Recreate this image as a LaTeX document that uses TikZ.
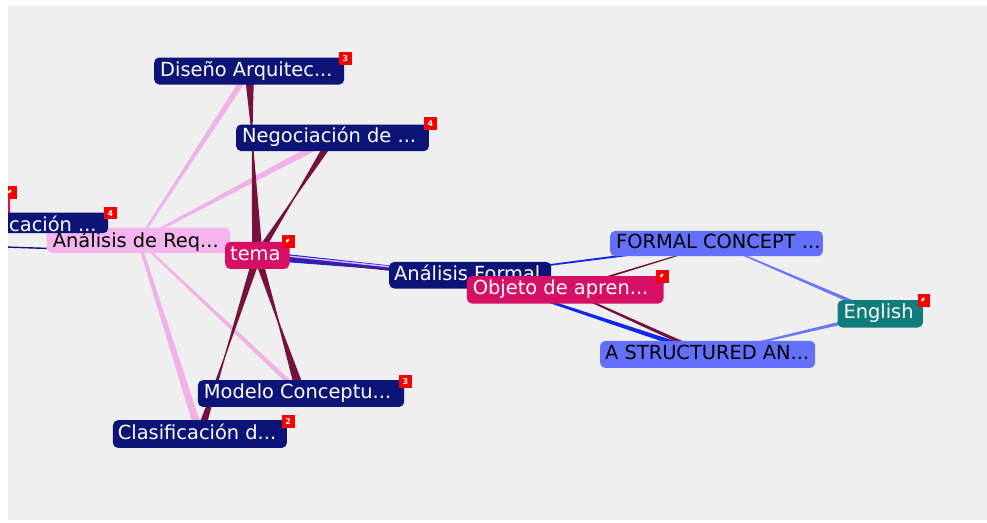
\documentclass[tikz,border=0pt]{standalone}
\usepackage{fontspec}
\setmainfont{DejaVu Sans}
\usetikzlibrary{calc}

\definecolor{panelgray}{RGB}{239,239,239}
\definecolor{navyc}{RGB}{12,20,120}
\definecolor{crimsonc}{RGB}{214,16,100}
\definecolor{pinkc}{RGB}{244,180,238}
\definecolor{peric}{RGB}{98,112,250}
\definecolor{tealc}{RGB}{16,124,124}
\definecolor{maroonc}{RGB}{118,16,62}
\definecolor{pinkedge}{RGB}{240,176,232}
\definecolor{blueedge}{RGB}{16,40,230}
\definecolor{periedge}{RGB}{104,120,250}
\definecolor{badgered}{RGB}{250,0,0}

% tapered connector: half width #4 at #2, half width #5 at #3
\newcommand\taper[5]{\fill[#1] ($(#2)!#4!90:(#3)$) -- ($(#3)!#5!-90:(#2)$) -- ($(#3)!#5!90:(#2)$) -- ($(#2)!#4!-90:(#3)$) -- cycle;}
% spike: half width #4 at #2, narrowing to a point at fraction #5 towards #3
\newcommand\spike[5]{\fill[#1] ($(#2)!#4!90:(#3)$) -- ($(#2)!#5!(#3)$) -- ($(#2)!#4!-90:(#3)$) -- cycle;}

\tikzset{
  cnode/.style={rounded corners=5pt, anchor=north west, inner sep=0pt,
    text height=14pt, text depth=4pt, font=\fontsize{19.4}{21}\selectfont},
  navybox/.style={cnode, fill=navyc, text=white},
  crimbox/.style={cnode, fill=crimsonc, text=white},
  pinkbox/.style={cnode, fill=pinkc, text=black},
  peribox/.style={cnode, fill=peric, text=black},
  tealbox/.style={cnode, fill=tealc, text=white},
  badge/.style={anchor=north west, fill=badgered, inner sep=0pt,
    minimum width=12.6pt, minimum height=12.4pt, text=white,
    font=\fontsize{8}{8}\selectfont\bfseries},
}

\begin{document}
\begin{tikzpicture}[x=1pt,y=-1pt]
\useasboundingbox (0,0) rectangle (987,522);
\fill[white] (0,0) rectangle (987,522);
\fill[panelgray] (8,6) rectangle (987,520);

\begin{scope}
\clip (8,6) rectangle (987,520);

% nodes are placed first so the connectors can refer to them,
% then painted again above the connectors
\begin{scope}[transparency group, opacity=0]
\node[crimbox, minimum width=70pt, minimum height=27pt] (off) at (-60,191) {};
\node[pinkbox, minimum width=183.3pt, minimum height=25pt] (req) at (46.7,227.7) {};
\node[crimbox, minimum width=64.3pt, minimum height=27pt] (tema) at (225,241.7) {};
\node[navybox, minimum width=190pt, minimum height=27pt] (dis) at (154,57.3) {};
\node[navybox, minimum width=192.7pt, minimum height=26.7pt] (neg) at (236,124.3) {};
\node[navybox, minimum width=206.3pt, minimum height=26.7pt] (mod) at (197.7,380) {};
\node[navybox, minimum width=174pt, minimum height=27.7pt] (cla) at (112.7,420) {};
\node[navybox, minimum width=162pt, minimum height=26.6pt] (af) at (389,261.7) {};
\node[crimbox, minimum width=196.6pt, minimum height=27.3pt] (obj) at (466.7,276) {};
\node[peribox, minimum width=212.7pt, minimum height=25.3pt] (fc) at (610,230.7) {};
\node[peribox, minimum width=215pt, minimum height=27pt] (asa) at (600,340.7) {};
\node[tealbox, minimum width=85.4pt, minimum height=27.3pt] (eng) at (837.3,300) {};
\end{scope}
\coordinate (offl) at (-10,246.5);

% connectors
\draw[navyc, line width=1.4pt] (offl) -- ([yshift=-8pt]req.west);
\taper{pinkedge}{req}{dis}{1pt}{3pt}
\taper{pinkedge}{req}{neg}{1pt}{3.5pt}
\taper{pinkedge}{req}{mod}{1pt}{2.5pt}
\taper{pinkedge}{req}{cla}{1.5pt}{4pt}
\spike{maroonc}{dis}{tema}{4.75pt}{0.38}
\spike{maroonc}{tema}{dis}{5.25pt}{0.69}
\spike{maroonc}{neg}{tema}{4pt}{0.6}
\spike{maroonc}{tema}{neg}{3.5pt}{0.6}
\spike{maroonc}{tema}{mod}{4pt}{0.6}
\spike{maroonc}{mod}{tema}{5pt}{0.6}
\spike{maroonc}{tema}{cla}{4pt}{0.65}
\spike{maroonc}{cla}{tema}{4pt}{0.5}
\taper{blueedge}{tema}{af}{4.5pt}{1pt}
\taper{maroonc}{tema}{obj}{0.6pt}{0.6pt}
\taper{pinkedge}{req}{af}{0.6pt}{0.8pt}
\taper{blueedge}{af}{fc}{0.7pt}{1.2pt}
\taper{blueedge}{af}{asa}{0.7pt}{2.5pt}
\taper{maroonc}{obj}{fc}{1.2pt}{0.3pt}
\taper{maroonc}{obj}{asa}{0.7pt}{2pt}
\taper{periedge}{fc}{eng}{0.5pt}{2pt}
\taper{periedge}{asa}{eng}{0.5pt}{2pt}

% concept boxes
\node[crimbox, minimum width=70pt, minimum height=27pt] at (off.north west) {};
\node[badge] (boff) at (4,186) {};
\node[pinkbox, minimum width=183.3pt, minimum height=25pt, text height=16pt, text depth=2pt] at (req.north west)
  {\makebox[183.3pt][l]{\hspace*{6pt}Análisis de Req...}};
\node[navybox, minimum width=104pt, minimum height=20.7pt, text height=17.5pt, text depth=0.5pt] (cac) at (4,212.3)
  {\makebox[104pt][l]{\hspace*{5pt}cación ...}};
\node[badge] (bcac) at (104,206.7) {4};
\node[crimbox, minimum width=64.3pt, minimum height=27pt] at (tema.north west)
  {\makebox[64.3pt][l]{\hspace*{5pt}tema}};
\node[badge] (btema) at (282,235) {};
\node[navybox, minimum width=190pt, minimum height=27pt] at (dis.north west)
  {\makebox[190pt][l]{\hspace*{6pt}Diseño Arquitec...}};
\node[badge] (bdis) at (339,52) {3};
\node[navybox, minimum width=192.7pt, minimum height=26.7pt] at (neg.north west)
  {\makebox[192.7pt][l]{\hspace*{6pt}Negociación de ...}};
\node[badge] (bneg) at (424,117) {4};
\node[navybox, minimum width=206.3pt, minimum height=26.7pt] at (mod.north west)
  {\makebox[206.3pt][l]{\hspace*{6pt}Modelo Conceptu...}};
\node[badge] (bmod) at (399,375) {3};
\node[navybox, minimum width=174pt, minimum height=27.7pt] at (cla.north west)
  {\makebox[174pt][l]{\hspace*{5pt}Clasificación d...}};
\node[badge] (bcla) at (281.7,415) {2};
\node[navybox, minimum width=162pt, minimum height=26.6pt] at (af.north west)
  {\makebox[162pt][l]{\hspace*{5pt}Análisis Formal}};
\node[crimbox, minimum width=196.6pt, minimum height=27.3pt] at (obj.north west)
  {\makebox[196.6pt][l]{\hspace*{6pt}Objeto de apren...}};
\node[badge] (bobj) at (656,270) {};
\node[peribox, minimum width=212.7pt, minimum height=25.3pt] at (fc.north west)
  {\makebox[212.7pt][l]{\hspace*{6pt}FORMAL CONCEPT ...}};
\node[peribox, minimum width=215pt, minimum height=27pt] at (asa.north west)
  {\makebox[215pt][l]{\hspace*{5pt}A STRUCTURED AN...}};
\node[tealbox, minimum width=85.4pt, minimum height=27.3pt] at (eng.north west)
  {\makebox[85.4pt][l]{\hspace*{6pt}English}};
\node[badge] (beng) at (917.3,294) {};

% small white marks on the plain badges
\foreach \b in {boff,btema,bobj,beng}
  \fill[white, rotate around={45:(\b.center)}]
    ([shift={(-1.8,-0.2)}]\b.center) rectangle ([shift={(1.8,-2.4)}]\b.center);
\end{scope}
\end{tikzpicture}
\end{document}
